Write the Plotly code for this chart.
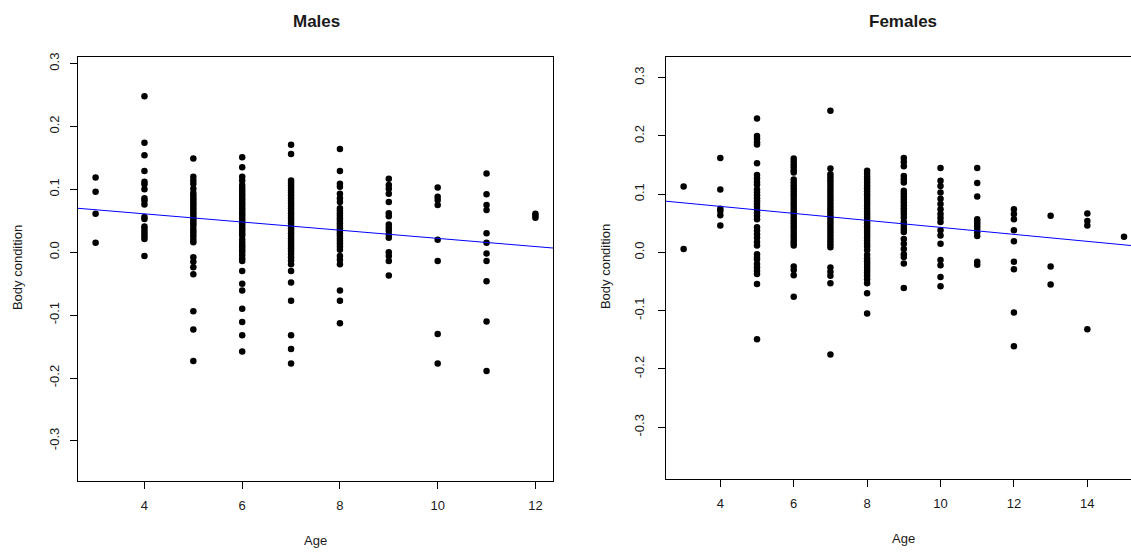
import numpy as np
import plotly.graph_objects as go

# ---- Males: body condition by age ----
male_ages = [3, 4, 5, 6, 7, 8, 9, 10, 11, 12]
male_bc = {
    3: [0.119, 0.096, 0.061, 0.015],
    4: [0.248, 0.174, 0.154, 0.129, 0.112, 0.108, 0.100, 0.086, 0.082, 0.076,
        0.056, 0.053, 0.041, 0.037, 0.033, 0.029, 0.025, 0.021, -0.006],
    5: [0.149, 0.120, 0.114, 0.109, 0.101, 0.094, 0.090, 0.086, 0.082, 0.078,
        0.074, 0.070, 0.066, 0.062, 0.058, 0.054, 0.050, 0.046, 0.042, 0.037,
        0.033, 0.029, 0.025, 0.020, 0.016, -0.008, -0.015, -0.024, -0.035,
        -0.094, -0.123, -0.173],
    6: [0.151, 0.135, 0.120, 0.114, 0.107, 0.102, 0.098, 0.094, 0.090, 0.086,
        0.082, 0.078, 0.074, 0.070, 0.066, 0.062, 0.058, 0.054, 0.050, 0.046,
        0.042, 0.038, 0.034, 0.030, 0.026, 0.020, 0.015, 0.011, 0.007, 0.003,
        -0.001, -0.005, -0.010, -0.014, -0.030, -0.050, -0.061, -0.090,
        -0.111, -0.132, -0.158],
    7: [0.171, 0.156, 0.114, 0.110, 0.106, 0.102, 0.098, 0.094, 0.090, 0.086,
        0.082, 0.078, 0.074, 0.070, 0.066, 0.062, 0.058, 0.054, 0.050, 0.046,
        0.042, 0.038, 0.034, 0.030, 0.026, 0.022, 0.018, 0.014, 0.010, 0.006,
        0.002, -0.003, -0.008, -0.013, -0.019, -0.030, -0.048, -0.077,
        -0.132, -0.154, -0.177],
    8: [0.164, 0.129, 0.109, 0.104, 0.093, 0.086, 0.080, 0.070, 0.066, 0.062,
        0.058, 0.054, 0.050, 0.046, 0.042, 0.038, 0.034, 0.030, 0.026, 0.022,
        0.018, 0.014, 0.009, 0.004, -0.006, -0.012, -0.019, -0.061, -0.077,
        -0.113],
    9: [0.117, 0.107, 0.101, 0.093, 0.080, 0.062, 0.057, 0.044, 0.039, 0.034,
        0.028, 0.023, 0.000, -0.006, -0.014, -0.037],
    10: [0.103, 0.088, 0.083, 0.075, 0.020, -0.014, -0.130, -0.177],
    11: [0.125, 0.092, 0.075, 0.067, 0.030, 0.015, -0.002, -0.014, -0.046,
         -0.110, -0.189],
    12: [0.061, 0.058, 0.055],
}
male_intercept = 0.087
male_slope = -0.0065

# ---- Females: body condition by age ----
female_ages = [3, 4, 5, 6, 7, 8, 9, 10, 11, 12, 13, 14, 15]
female_bc = {
    3: [0.113, 0.006],
    4: [0.162, 0.108, 0.075, 0.071, 0.064, 0.046],
    5: [0.230, 0.200, 0.195, 0.189, 0.185, 0.153, 0.133, 0.127, 0.121, 0.116,
        0.108, 0.103, 0.098, 0.093, 0.088, 0.083, 0.078, 0.073, 0.068, 0.063,
        0.057, 0.043, 0.037, 0.031, 0.025, 0.018, 0.012, -0.003, -0.008,
        -0.012, -0.020, -0.026, -0.032, -0.037, -0.054, -0.149],
    6: [0.161, 0.156, 0.151, 0.146, 0.141, 0.137, 0.125, 0.120, 0.115, 0.110,
        0.105, 0.100, 0.095, 0.090, 0.085, 0.080, 0.075, 0.070, 0.065, 0.060,
        0.055, 0.050, 0.045, 0.040, 0.035, 0.030, 0.025, 0.020, 0.016, 0.012,
        -0.024, -0.030, -0.039, -0.076],
    7: [0.243, 0.144, 0.134, 0.129, 0.124, 0.119, 0.114, 0.109, 0.104, 0.099,
        0.094, 0.089, 0.084, 0.079, 0.074, 0.069, 0.064, 0.059, 0.054, 0.049,
        0.044, 0.039, 0.034, 0.029, 0.024, 0.019, 0.014, 0.009, -0.026,
        -0.033, -0.040, -0.053, -0.175],
    8: [0.140, 0.135, 0.130, 0.125, 0.120, 0.115, 0.110, 0.105, 0.100, 0.095,
        0.090, 0.085, 0.080, 0.075, 0.070, 0.065, 0.060, 0.055, 0.050, 0.045,
        0.040, 0.035, 0.030, 0.025, 0.020, 0.015, 0.010, 0.004, -0.004,
        -0.010, -0.015, -0.020, -0.025, -0.030, -0.035, -0.040, -0.046,
        -0.053, -0.070, -0.105],
    9: [0.162, 0.155, 0.148, 0.131, 0.125, 0.120, 0.106, 0.101, 0.096, 0.091,
        0.086, 0.081, 0.076, 0.071, 0.066, 0.060, 0.052, 0.046, 0.040, 0.035,
        0.023, 0.015, 0.006, -0.003, -0.008, -0.019, -0.061],
    10: [0.145, 0.123, 0.114, 0.103, 0.092, 0.083, 0.074, 0.066, 0.059, 0.052,
         0.038, 0.029, 0.015, -0.013, -0.022, -0.042, -0.058],
    11: [0.145, 0.119, 0.096, 0.057, 0.053, 0.049, 0.045, 0.040, 0.034, 0.028,
         -0.016, -0.021],
    12: [0.074, 0.066, 0.057, 0.038, 0.019, -0.016, -0.029, -0.103, -0.161],
    13: [0.063, -0.024, -0.055],
    14: [0.067, 0.054, 0.046, -0.132],
    15: [0.027],
}
female_intercept = 0.103
female_slope = -0.0060

x_ticks_m = [4, 6, 8, 10, 12]
x_ticks_f = [4, 6, 8, 10, 12, 14]
y_ticks = [-0.3, -0.2, -0.1, 0.0, 0.1, 0.2, 0.3]
y_tick_text = ["-0.3", "-0.2", "-0.1", "0.0", "0.1", "0.2", "0.3"]

x_range_m = [2.64, 12.36]
y_range_m = [-0.363, 0.311]
x_range_f = [2.52, 15.19]
y_range_f = [-0.388, 0.336]

W, H = 1131, 552
FONT = "Liberation Sans, Arial, sans-serif"
TXT = "#1a1a1a"


def flatten(groups, ages):
    xs, ys = [], []
    for a in ages:
        for v in groups[a]:
            xs.append(a)
            ys.append(v)
    return xs, ys


fig = go.Figure()

mx, my = flatten(male_bc, male_ages)
fx, fy = flatten(female_bc, female_ages)

marker = dict(color="black", size=6.5, line=dict(width=0))
fig.add_trace(go.Scatter(x=mx, y=my, mode="markers", marker=marker,
                         xaxis="x", yaxis="y", showlegend=False))
fig.add_trace(go.Scatter(x=fx, y=fy, mode="markers", marker=marker,
                         xaxis="x2", yaxis="y2", showlegend=False))

# fitted lines spanning the full plotting region
lx_m = np.array(x_range_m)
lx_f = np.array(x_range_f)
fig.add_trace(go.Scatter(x=lx_m, y=male_intercept + male_slope * lx_m,
                         mode="lines", line=dict(color="#0000ff", width=1),
                         xaxis="x", yaxis="y", showlegend=False))
fig.add_trace(go.Scatter(x=lx_f, y=female_intercept + female_slope * lx_f,
                         mode="lines", line=dict(color="#0000ff", width=1),
                         xaxis="x2", yaxis="y2", showlegend=False))

axis_common = dict(
    showgrid=False, zeroline=False, showline=True, linecolor="black",
    linewidth=1, ticks="outside", ticklen=7, tickwidth=1, tickcolor="black",
    tickfont=dict(family=FONT, size=13, color=TXT),
)

left_dom_x = [78 / W, 553 / W]
left_dom_y = [(H - 480) / H, (H - 53) / H]
right_dom_x = [666 / W, 1.0]
right_dom_y = [(H - 478) / H, (H - 53) / H]

fig.update_layout(
    width=W, height=H,
    margin=dict(l=0, r=0, t=0, b=0),
    paper_bgcolor="white", plot_bgcolor="white",
    xaxis=dict(axis_common, domain=left_dom_x, range=x_range_m,
               tickvals=x_ticks_m, mirror=True, anchor="y",
               ticklabelstandoff=6),
    yaxis=dict(axis_common, domain=left_dom_y, range=y_range_m,
               tickvals=y_ticks, ticktext=y_tick_text, tickangle=-90,
               mirror=True, anchor="x", ticklabelstandoff=6),
    xaxis2=dict(axis_common, domain=right_dom_x, range=x_range_f,
                tickvals=x_ticks_f, mirror=True, anchor="y2",
                ticklabelstandoff=6),
    yaxis2=dict(axis_common, domain=right_dom_y, range=y_range_f,
                tickvals=y_ticks, ticktext=y_tick_text, tickangle=-90,
                mirror=False, anchor="x2", ticklabelstandoff=9),
)


def px_x(p):
    return p / W


def px_y(p):
    return 1 - p / H


annotations = [
    dict(text="<b>Males</b>", x=px_x(316), y=px_y(18), size=17),
    dict(text="<b>Females</b>", x=px_x(903), y=px_y(18), size=17),
    dict(text="Age", x=px_x(315.5), y=px_y(540), size=13),
    dict(text="Age", x=px_x(903), y=px_y(538), size=13),
]
for a in annotations:
    fig.add_annotation(text=a["text"], x=a["x"], y=a["y"], xref="paper",
                       yref="paper", showarrow=False, xanchor="center",
                       yanchor="middle",
                       font=dict(family=FONT, size=a["size"], color=TXT))

for xpix, ypix in [(17, 266), (605, 265)]:
    fig.add_annotation(text="Body condition", x=px_x(xpix), y=px_y(ypix),
                       xref="paper", yref="paper", showarrow=False,
                       textangle=-90, xanchor="center", yanchor="middle",
                       font=dict(family=FONT, size=13, color=TXT))

fig.write_html("out.html")
